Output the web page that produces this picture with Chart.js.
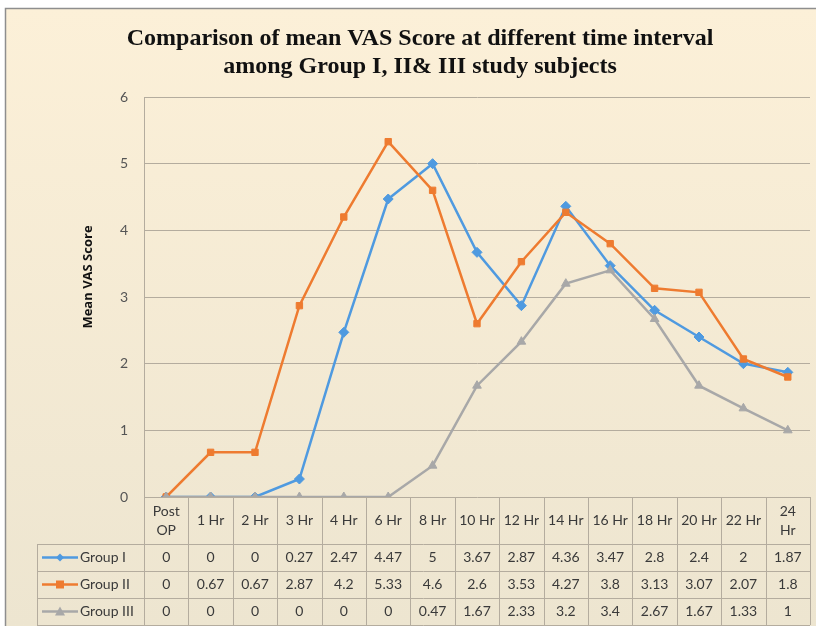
<!DOCTYPE html>
<html>
<head>
<meta charset="utf-8">
<script src="https://cdn.jsdelivr.net/npm/chart.js@4.4.1/dist/chart.umd.min.js"></script>
<style>
  html, body { margin: 0; padding: 0; background: #fff; }
  #wrap { width: 816px; height: 626px; position: relative; }
</style>
</head>
<body>
<div id="wrap"><canvas id="vasChart" width="816" height="626"></canvas></div>
<script>
// Dados do gráfico
const intervalos = [['Post', 'OP'], '1 Hr', '2 Hr', '3 Hr', '4 Hr', '6 Hr', '8 Hr', '10 Hr', '12 Hr', '14 Hr', '16 Hr', '18 Hr', '20 Hr', '22 Hr', ['24', 'Hr']];
const grupoI   = [0, 0, 0, 0.27, 2.47, 4.47, 5, 3.67, 2.87, 4.36, 3.47, 2.8, 2.4, 2, 1.87];
const grupoII  = [0, 0.67, 0.67, 2.87, 4.2, 5.33, 4.6, 2.6, 3.53, 4.27, 3.8, 3.13, 3.07, 2.07, 1.8];
const grupoIII = [0, 0, 0, 0, 0, 0, 0.47, 1.67, 2.33, 3.2, 3.4, 2.67, 1.67, 1.33, 1];
const nomesGrupos = ['Group I', 'Group II', 'Group III'];
const yTicks = [0, 1, 2, 3, 4, 5, 6];
const titulo = ['Comparison of mean VAS Score at different time interval', 'among Group I, II& III study subjects'];

const FONTE = 'Lato, "Open Sans", sans-serif';
const GRADE = '#b4ac9e';

// Fundo com moldura e gradiente
const fundoPlugin = {
    id: 'fundo',
    beforeDraw(chart) {
        const ctx = chart.ctx;
        ctx.save();
        ctx.fillStyle = '#ffffff';
        ctx.fillRect(0, 0, chart.width, chart.height);
        const grad = ctx.createLinearGradient(0, 8, 0, chart.height);
        grad.addColorStop(0, '#fcf0d8');
        grad.addColorStop(1, '#ede5d0');
        ctx.fillStyle = grad;
        ctx.fillRect(5, 8, chart.width, chart.height);
        ctx.strokeStyle = '#8e8e8e';
        ctx.lineWidth = 1.5;
        ctx.strokeRect(5.5, 8.5, chart.width + 10, chart.height + 10);
        ctx.restore();
    }
};

// Título e rótulo do eixo Y
const textosPlugin = {
    id: 'textos',
    afterDraw(chart) {
        const ctx = chart.ctx;
        ctx.save();
        ctx.font = 'bold 24px "Liberation Serif", "Times New Roman", serif';
        ctx.fillStyle = '#111';
        ctx.textAlign = 'center';
        ctx.textBaseline = 'middle';
        ctx.fillText(titulo[0], 420, 39);
        ctx.fillText(titulo[1], 420, 67);

        ctx.translate(88, 277);
        ctx.rotate(-Math.PI / 2);
        ctx.font = 'bold 13px "Open Sans", sans-serif';
        ctx.fillText('Mean VAS Score', 0, 0);
        ctx.restore();
    }
};

// Tabela de dados abaixo do gráfico
const tabelaPlugin = {
    id: 'tabela',
    afterDraw(chart) {
        const ctx = chart.ctx;
        const x = chart.scales.x;
        const area = chart.chartArea;
        const n = intervalos.length;
        const w = (area.right - area.left) / n;
        const topo = area.bottom;
        const linhas = [topo + 47, topo + 74, topo + 101, topo + 128];
        const esq = 37;

        ctx.save();
        ctx.strokeStyle = GRADE;
        ctx.lineWidth = 1;
        // linhas horizontais
        linhas.forEach(yy => {
            ctx.beginPath();
            ctx.moveTo(esq, Math.round(yy) + 0.5);
            ctx.lineTo(area.right, Math.round(yy) + 0.5);
            ctx.stroke();
        });
        // linhas verticais
        for (let i = 0; i <= n; i++) {
            const xx = Math.round(area.left + i * w) + 0.5;
            ctx.beginPath();
            ctx.moveTo(xx, topo);
            ctx.lineTo(xx, linhas[3]);
            ctx.stroke();
        }
        ctx.beginPath();
        ctx.moveTo(esq + 0.5, linhas[0]);
        ctx.lineTo(esq + 0.5, linhas[3]);
        ctx.stroke();

        ctx.font = '14px ' + FONTE;
        ctx.fillStyle = '#3a3a3a';
        ctx.textAlign = 'center';
        ctx.textBaseline = 'middle';
        // cabeçalho
        intervalos.forEach((lab, i) => {
            const cx = x.getPixelForValue(i);
            const cy = (topo + linhas[0]) / 2;
            if (Array.isArray(lab)) {
                ctx.fillText(lab[0], cx, cy - 9);
                ctx.fillText(lab[1], cx, cy + 10);
            } else {
                ctx.fillText(lab, cx, cy);
            }
        });
        // valores
        const series = [grupoI, grupoII, grupoIII];
        chart.data.datasets.forEach((ds, r) => {
            const cy = (linhas[r] + linhas[r + 1]) / 2;
            series[r].forEach((v, i) => {
                ctx.fillText(String(v), x.getPixelForValue(i), cy);
            });
            // legenda
            ctx.strokeStyle = ds.borderColor;
            ctx.lineWidth = 2.5;
            ctx.beginPath();
            ctx.moveTo(42, cy);
            ctx.lineTo(78, cy);
            ctx.stroke();
            ctx.fillStyle = ds.borderColor;
            ctx.beginPath();
            if (ds.pointStyle === 'rectRot') {
                ctx.moveTo(60, cy - 4); ctx.lineTo(64, cy); ctx.lineTo(60, cy + 4); ctx.lineTo(56, cy);
            } else if (ds.pointStyle === 'rect') {
                ctx.rect(56, cy - 4, 8, 8);
            } else {
                ctx.moveTo(60, cy - 5); ctx.lineTo(65, cy + 4); ctx.lineTo(55, cy + 4);
            }
            ctx.closePath();
            ctx.fill();
            ctx.fillStyle = '#3a3a3a';
            ctx.textAlign = 'left';
            ctx.fillText(nomesGrupos[r], 80, cy);
            ctx.textAlign = 'center';
        });
        ctx.restore();
    }
};

function serie(label, data, cor, estilo, raio, ordem) {
    return {
        label: label,
        data: data,
        borderColor: cor,
        backgroundColor: cor,
        borderWidth: 2.5,
        pointStyle: estilo,
        pointRadius: raio,
        pointHoverRadius: raio,
        pointBorderWidth: 1,
        tension: 0,
        order: ordem
    };
}

document.addEventListener('DOMContentLoaded', () => {
    const ctx = document.getElementById('vasChart').getContext('2d');
    new Chart(ctx, {
        type: 'line',
        data: {
            labels: intervalos,
            datasets: [
                serie('Group I', grupoI, '#4f9ae0', 'rectRot', 5, 2),
                serie('Group II', grupoII, '#ee7b30', 'rect', 4.5, 1),
                serie('Group III', grupoIII, '#a8a8a8', 'triangle', 5, 0)
            ]
        },
        options: {
            responsive: false,
            animation: false,
            layout: { padding: { top: 97, left: 0, right: 6, bottom: 121 } },
            plugins: {
                legend: { display: false },
                tooltip: { enabled: false },
                title: { display: false }
            },
            scales: {
                x: {
                    offset: true,
                    grid: { display: false },
                    border: { display: false },
                    ticks: { display: false }
                },
                y: {
                    min: 0,
                    max: 6,
                    afterBuildTicks: scale => { scale.ticks = yTicks.map(v => ({ value: v })); },
                    afterFit: scale => { scale.width = 144; },
                    grid: { color: GRADE, lineWidth: 1, drawTicks: false },
                    border: { color: GRADE },
                    ticks: { color: '#555', padding: 16, font: { family: FONTE, size: 14 } }
                }
            }
        },
        plugins: [fundoPlugin, textosPlugin, tabelaPlugin]
    });
});
</script>
</body>
</html>
